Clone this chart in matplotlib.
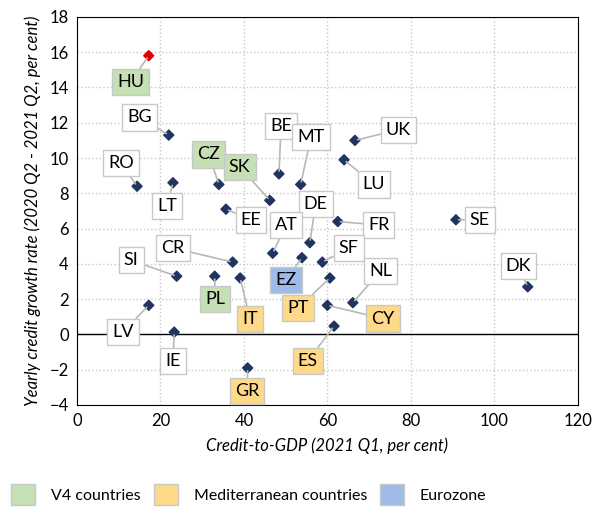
import matplotlib.pyplot as plt
from matplotlib.patches import Patch

# data
countries = ['HU', 'BG', 'RO', 'LT', 'CZ', 'SK', 'BE', 'MT', 'UK', 'LU',
             'EE', 'DE', 'FR', 'SE', 'DK', 'AT', 'CR', 'SI', 'EZ', 'SF',
             'PL', 'IT', 'PT', 'LV', 'NL', 'CY', 'ES', 'IE', 'GR']
credit_to_gdp = [17.2, 22.0, 14.4, 23.0, 34.0, 46.2, 48.4, 53.6, 66.6, 64.0,
                 35.7, 55.8, 62.5, 90.8, 108.0, 46.9, 37.3, 23.9, 53.9, 58.8,
                 33.0, 39.1, 60.6, 17.2, 66.1, 60.0, 61.6, 23.3, 40.9]
credit_growth = [15.8, 11.3, 8.4, 8.6, 8.5, 7.6, 9.1, 8.5, 11.0, 9.9,
                 7.1, 5.2, 6.4, 6.5, 2.7, 4.6, 4.1, 3.3, 4.35, 4.1,
                 3.3, 3.2, 3.2, 1.65, 1.8, 1.65, 0.47, 0.13, -1.9]
groups = ['v4', '', '', '', 'v4', 'v4', '', '', '', '',
          '', '', '', '', '', '', '', '', 'ez', '',
          'v4', 'med', 'med', '', '', 'med', 'med', '', 'med']
# label box positions (data coords)
label_x = [12.8, 15.0, 10.6, 21.6, 31.6, 39.0, 48.9, 56.1, 77.0, 71.2,
           41.7, 57.2, 72.3, 96.5, 105.8, 50.1, 23.0, 13.0, 50.1, 65.1,
           33.1, 41.5, 53.0, 11.0, 72.8, 73.3, 55.3, 23.0, 40.8]
label_y = [14.3, 12.3, 9.7, 7.3, 10.2, 9.5, 11.8, 11.2, 11.6, 8.5,
           6.5, 7.4, 6.2, 6.5, 3.9, 6.2, 4.9, 4.2, 3.1, 4.9,
           2.0, 0.85, 1.5, 0.15, 3.6, 0.9, -1.5, -1.5, -3.2]

colors = {'': 'white', 'v4': '#c5e0b4', 'med': '#ffd98a', 'ez': '#9fbbe9'}

plt.rcParams['font.family'] = ['Lato', 'DejaVu Sans']
plt.rcParams['font.size'] = 12

fig = plt.figure(figsize=(5.92, 5.12), dpi=100)
ax = fig.add_axes([0.130, 0.209, 0.846, 0.758])

marker_colors = ['#e00000' if c == 'HU' else '#1f3560' for c in countries]
ax.scatter(credit_to_gdp, credit_growth, marker='D', s=26, c=marker_colors,
           zorder=4)

for i, name in enumerate(countries):
    ax.annotate(name, xy=(credit_to_gdp[i], credit_growth[i]),
                xytext=(label_x[i], label_y[i]), ha='center', va='center',
                fontsize=13, zorder=5,
                bbox=dict(boxstyle='square,pad=0.28', fc=colors[groups[i]],
                          ec='#c8c8c8', lw=1),
                arrowprops=dict(arrowstyle='-', color='#b8b8b8', lw=1.2,
                                shrinkA=0, shrinkB=2))

ax.axhline(0, color='black', lw=1, zorder=2)
ax.set_xlim(0, 120)
ax.set_ylim(-4, 18)
ax.set_xticks(range(0, 121, 20))
ax.set_yticks(range(-4, 19, 2))
ax.grid(True, color='#c8c8c8', linestyle=':', lw=1)
ax.set_axisbelow(True)
for s in ax.spines.values():
    s.set_color('black')
ax.tick_params(length=0, labelsize=12, pad=6)
ax.set_xlabel('Credit-to-GDP (2021 Q1, per cent)', style='italic', fontsize=12,
              labelpad=6)
ax.set_ylabel('Yearly credit growth rate (2020 Q2 - 2021 Q2, per cent)',
              style='italic', fontsize=12, labelpad=6)

handles = [Patch(fc=colors['v4'], ec='#c8c8c8'),
           Patch(fc=colors['med'], ec='#c8c8c8'),
           Patch(fc=colors['ez'], ec='#c8c8c8')]
fig.legend(handles, ['V4 countries', 'Mediterranean countries', 'Eurozone'],
           loc='lower left', bbox_to_anchor=(-0.005, -0.015), ncol=3,
           frameon=False, handlelength=1.5, handleheight=1.7,
           handletextpad=1.0, columnspacing=0.8, fontsize=11.5)

fig.savefig('out.png', dpi=100)
